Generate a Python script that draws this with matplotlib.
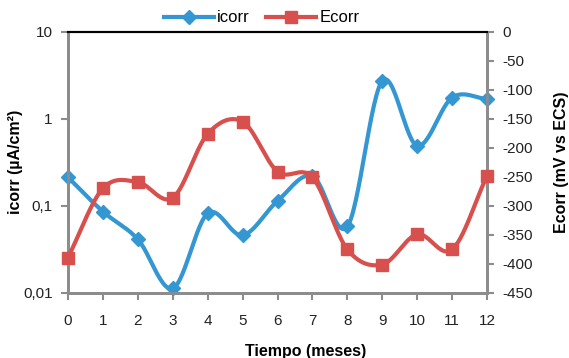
import matplotlib
matplotlib.use("Agg")
import matplotlib.pyplot as plt
import numpy as np
from matplotlib.lines import Line2D

plt.rcParams['font.family'] = ['Liberation Sans', 'DejaVu Sans']
plt.rcParams['axes.unicode_minus'] = False

meses = [0, 1, 2, 3, 4, 5, 6, 7, 8, 9, 10, 11, 12]
icorr = [0.213, 0.086, 0.0413, 0.0113, 0.082, 0.046, 0.114, 0.22, 0.058, 2.72, 0.49, 1.75, 1.69]
ecorr = [-389, -270, -259, -286, -176, -155, -241, -251, -375, -401, -349, -375, -248]

icorr_ticks = [0.01, 0.1, 1, 10]
icorr_labels = ['0,01', '0,1', '1', '10']
ecorr_ticks = list(range(-450, 1, 50))

blue = '#3497D2'
red = '#D8504D'
grey = '#8C8C8C'


def smooth(x, y, n=30):
    # catmull-rom curve through the points (like Excel smoothed lines)
    x = np.asarray(x, float)
    y = np.asarray(y, float)
    px = np.concatenate([[2 * x[0] - x[1]], x, [2 * x[-1] - x[-2]]])
    py = np.concatenate([[2 * y[0] - y[1]], y, [2 * y[-1] - y[-2]]])
    xs, ys = [], []
    t = np.linspace(0, 1, n)
    for i in range(1, len(px) - 2):
        for p, out in ((px, xs), (py, ys)):
            p0, p1, p2, p3 = p[i - 1], p[i], p[i + 1], p[i + 2]
            out.extend(0.5 * ((2 * p1) + (-p0 + p2) * t
                              + (2 * p0 - 5 * p1 + 4 * p2 - p3) * t ** 2
                              + (-p0 + 3 * p1 - 3 * p2 + p3) * t ** 3))
    return np.array(xs), np.array(ys)


fig = plt.figure(figsize=(5.69, 3.58), dpi=100)
ax = fig.add_axes([0.1195, 0.1816, 0.7365, 0.73])
ax2 = ax.twinx()

sx, sy = smooth(meses, np.log10(icorr))
ax.plot(sx, 10 ** sy, color=blue, lw=3, zorder=3, solid_capstyle='round')
ax.plot(meses, icorr, 'D', color=blue, ms=7, zorder=4, clip_on=False)

sx, sy = smooth(meses, ecorr)
ax2.plot(sx, sy, color=red, lw=3, zorder=3, solid_capstyle='round')
ax2.plot(meses, ecorr, 's', color=red, ms=9, zorder=4, clip_on=False)

ax.set_yscale('log')
ax.set_ylim(0.01, 10)
ax.set_yticks(icorr_ticks)
ax.set_yticklabels(icorr_labels)
ax.minorticks_off()
ax.set_xlim(0, 12)
ax.set_xticks(meses)
ax2.set_ylim(-450, 0)
ax2.set_yticks(ecorr_ticks)

for a in (ax, ax2):
    for s in ('left', 'right', 'bottom'):
        a.spines[s].set_color(grey)
        a.spines[s].set_linewidth(2)
    a.spines['top'].set_color('black')
    a.spines['top'].set_linewidth(1.5)
    a.tick_params(length=5, width=1.5, color=grey, labelsize=11, pad=6,
                  labelcolor='#222222')
ax.tick_params(axis='x', pad=10)

ax.set_ylabel('icorr (µA/cm²)', fontsize=11.5, fontweight='bold', labelpad=0)
ax2.set_ylabel('Ecorr (mV vs ECS)', fontsize=11.5, fontweight='bold', labelpad=15)
ax.set_xlabel('Tiempo (meses)', fontsize=11.5, fontweight='bold')
ax.xaxis.set_label_coords(0.568, -0.195)

handles = [Line2D([], [], color=blue, lw=3, marker='D', ms=7),
           Line2D([], [], color=red, lw=3, marker='s', ms=9)]
fig.legend(handles, ['icorr', 'Ecorr'], loc='center', bbox_to_anchor=(0.46, 0.95),
           ncol=2, frameon=False, fontsize=12, handlelength=3.0,
           handletextpad=0.2, columnspacing=1.0, borderaxespad=0)

fig.savefig('out.png', dpi=100)
